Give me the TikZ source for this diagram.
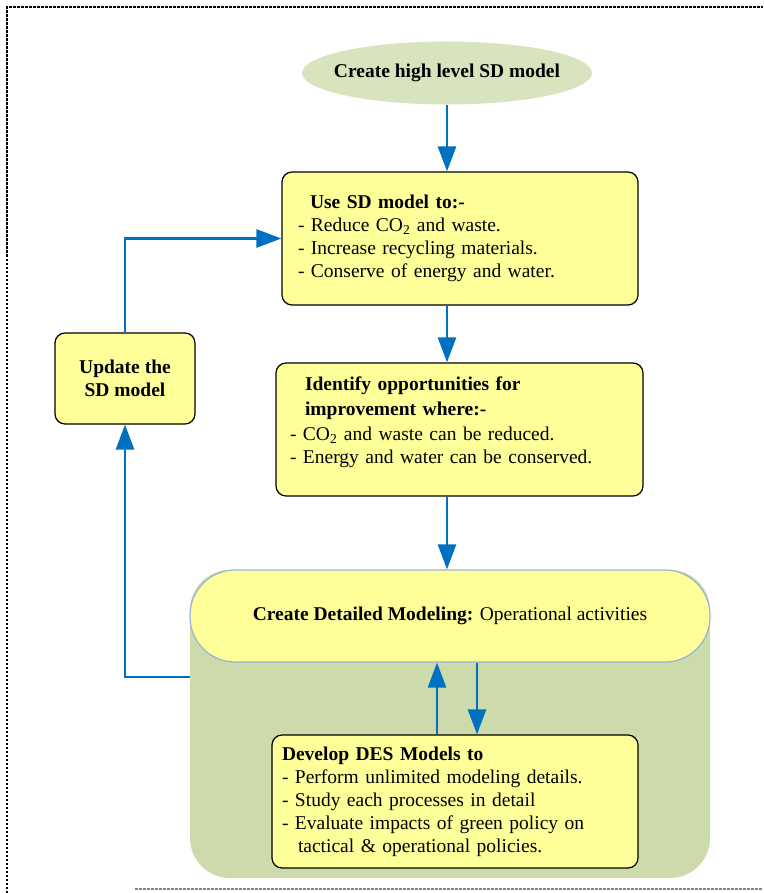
\documentclass[tikz,border=0pt]{standalone}
\usepackage{fontspec}
\setmainfont{Liberation Serif}
\usepackage{xcolor}
\usetikzlibrary{shapes.geometric,arrows.meta,positioning}
\definecolor{boxyellow}{HTML}{FFFF99}
\definecolor{ovalgreen}{HTML}{D8E4BE}
\definecolor{groupgreen}{HTML}{CDDAAB}
\definecolor{edgeblue}{HTML}{95B3D7}
\definecolor{flowblue}{HTML}{0070C0}
\tikzset{
  box/.style={draw, rounded corners=10pt, fill=boxyellow, line width=1.2pt, align=left},
  flow/.style={draw=flowblue, line width=2.6pt, -{Triangle[length=25pt,width=18pt]}},
}

\begin{document}
\begin{tikzpicture}[x=1pt,y=-1pt,font=\fontsize{19.5}{23}\selectfont]
    \useasboundingbox (0,0) rectangle (763,893);
    % Frame
    \draw [line width=1.5pt, dash pattern=on 2.5pt off 1.5pt] (7,893) -- (7,7) -- (763,7);
    \draw [gray, line width=1.5pt, dash pattern=on 2.5pt off 1.5pt] (135,889) -- (763,889);

    % High level model
    \node [ellipse, fill=ovalgreen, inner sep=0pt, minimum width=290pt, minimum height=63pt, label={[font=\fontsize{19.5}{23}\selectfont\bfseries]center:Create high level SD model}] (high) at (447,73) {};

    % SD model boxes
    \node [box, minimum width=356pt, minimum height=133pt, text width=324pt, inner xsep=16pt] (use) at (460,238.5) {\hspace*{12pt}\textbf{Use SD model to:-}\\- Reduce CO\textsubscript{2} and waste.\\- Increase recycling materials.\\- Conserve of energy and water.};
    \node [box, minimum width=367pt, minimum height=133pt, text width=339pt, inner xsep=14pt] (opp) at (459.5,429.5) {\hspace*{15pt}\textbf{Identify opportunities for}\\[2pt]\hspace*{15pt}\textbf{improvement where:-}\\[2pt]- CO\textsubscript{2} and waste can be reduced.\\- Energy and water can be conserved.\\[-5pt]\mbox{}};
    \node [box, align=center, minimum width=140pt, minimum height=91pt, font=\fontsize{19.5}{23}\selectfont\bfseries] (update) at (125,378.5) {Update the\\SD model};

    % Detailed modeling
    \node [fill=groupgreen, rounded corners=40pt, minimum width=520pt, minimum height=308pt] (detailbg) at (450,724) {};
    \node [fill=boxyellow, draw=edgeblue, line width=1.2pt, rounded corners=45pt, minimum width=520pt, minimum height=92pt] (detail) at (450,616) {\textbf{Create Detailed Modeling:} Operational activities};
    \node [box, minimum width=366pt, minimum height=133pt, text width=346pt, inner xsep=10pt] (des) at (455,801.5) {\textbf{Develop DES Models to}\\- Perform unlimited modeling details.\\- Study each processes in detail\\- Evaluate impacts of green policy on\\\hspace*{16pt}tactical \& operational policies.};
    \coordinate (back) at (190,677);

    % Arrows
    \draw [flow] (high.south) -- (high.south |- use.north);
    \draw [flow] (use.south -| high) -- (high |- opp.north);
    \draw [flow] (opp.south -| high) -- (high |- detail.north);
    \draw [flow] ([xshift=-18pt]des.north) -- ([xshift=-18pt]des.north |- detail.south);
    \draw [flow] ([xshift=27pt]detail.south) -- ([xshift=27pt]detail.south |- des.north);
    \draw [flow] (back) -| (update.south);
    \draw [flow] (update.north) |- (use.west);
\end{tikzpicture}
\end{document}
